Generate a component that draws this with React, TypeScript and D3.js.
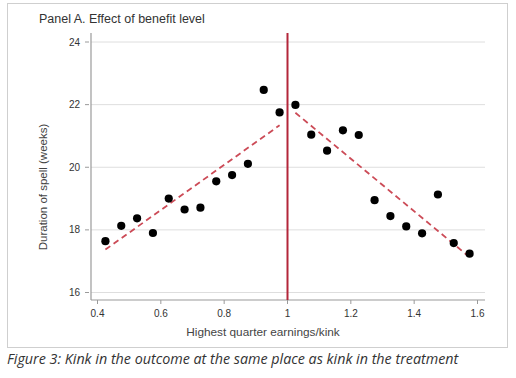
import React from "react";
import * as d3 from "d3";

const xLeft = [0.425, 0.475, 0.525, 0.575, 0.625, 0.675, 0.725, 0.775, 0.825, 0.875, 0.925, 0.975];
const yLeft = [17.64, 18.13, 18.37, 17.9, 19.0, 18.65, 18.71, 19.55, 19.75, 20.11, 22.47, 21.75];
const xRight = [1.025, 1.075, 1.125, 1.175, 1.225, 1.275, 1.325, 1.375, 1.425, 1.475, 1.525, 1.575];
const yRight = [21.99, 21.04, 20.53, 21.18, 21.03, 18.95, 18.44, 18.11, 17.89, 19.13, 17.58, 17.24];
const fitLeftX = [0.425, 0.975];
const fitLeftY = [17.37, 21.34];
const fitRightX = [1.025, 1.57];
const fitRightY = [21.74, 17.17];
const xTicks = [0.4, 0.6, 0.8, 1, 1.2, 1.4, 1.6];
const yTicks = [16, 18, 20, 22, 24];
const kink = 1;

const title = "Panel A. Effect of benefit level";
const xTitle = "Highest quarter earnings/kink";
const yTitle = "Duration of spell (weeks)";
const caption = "Figure 3: Kink in the outcome at the same place as kink in the treatment";

export default function App() {
  const x = d3.scaleLinear().domain([0.4, 1.6]).range([97.5, 477.5]);
  const y = d3.scaleLinear().domain([16, 24]).range([292.5, 42]);
  const axisX0 = 91;
  const axisX1 = 485;
  const axisY = 300;
  const axisTop = 33;
  const font = "'Liberation Sans', Arial, Helvetica, sans-serif";
  const line = d3.line<[number, number]>().x((d) => x(d[0])).y((d) => y(d[1]));
  const pts = [
    ...xLeft.map((v, i) => [v, yLeft[i]] as [number, number]),
    ...xRight.map((v, i) => [v, yRight[i]] as [number, number]),
  ];
  const fitL = fitLeftX.map((v, i) => [v, fitLeftY[i]] as [number, number]);
  const fitR = fitRightX.map((v, i) => [v, fitRightY[i]] as [number, number]);

  return (
    <svg
      width={516}
      height={378}
      style={{ position: "absolute", left: 0, top: 0, background: "#fff" }}
    >
      <rect x={7.5} y={3.5} width={500} height={344} fill="#fff" stroke="#cfcfcf" strokeWidth={1} />
      <text x={39} y={22.5} fontFamily={font} fontSize={12.5} fill="#333">
        {title}
      </text>
      {yTicks.map((t) => (
        <line key={"g" + t} x1={axisX0} x2={axisX1} y1={y(t)} y2={y(t)} stroke="#dedede" strokeWidth={1} />
      ))}
      <line x1={axisX0} x2={axisX0} y1={axisTop} y2={axisY} stroke="#9a9a9a" strokeWidth={1.2} />
      <line x1={axisX0} x2={axisX1} y1={axisY} y2={axisY} stroke="#9a9a9a" strokeWidth={1.2} />
      {yTicks.map((t) => (
        <g key={"yt" + t}>
          <line x1={85} x2={89} y1={y(t)} y2={y(t)} stroke="#9a9a9a" strokeWidth={1} />
          <text x={80} y={y(t) + 3.5} textAnchor="end" fontFamily={font} fontSize={10} fill="#333">
            {t}
          </text>
        </g>
      ))}
      {xTicks.map((t) => (
        <g key={"xt" + t}>
          <line x1={x(t)} x2={x(t)} y1={axisY} y2={axisY + 4} stroke="#9a9a9a" strokeWidth={1} />
          <text x={x(t)} y={317} textAnchor="middle" fontFamily={font} fontSize={10} fill="#333">
            {d3.format("")(t)}
          </text>
        </g>
      ))}
      <text x={263} y={336} textAnchor="middle" fontFamily={font} fontSize={11.8} fill="#444">
        {xTitle}
      </text>
      <text
        transform={`translate(47,187) rotate(-90)`}
        textAnchor="middle"
        fontFamily={font}
        fontSize={11.5}
        fill="#444"
      >
        {yTitle}
      </text>
      <path d={line(fitL) || ""} fill="none" stroke="#cc4b57" strokeWidth={1.8} strokeDasharray="6,4" />
      <path d={line(fitR) || ""} fill="none" stroke="#cc4b57" strokeWidth={1.8} strokeDasharray="6,4" />
      <line x1={x(kink)} x2={x(kink)} y1={axisTop} y2={axisY} stroke="#b3263a" strokeWidth={2} />
      {pts.map((p, i) => (
        <circle key={"p" + i} cx={x(p[0])} cy={y(p[1])} r={4.1} fill="#000" />
      ))}
      <text x={7} y={364} fontFamily="'Open Sans', sans-serif" fontStyle="italic" fontSize={14.3} fill="#333">
        {caption}
      </text>
    </svg>
  );
}
